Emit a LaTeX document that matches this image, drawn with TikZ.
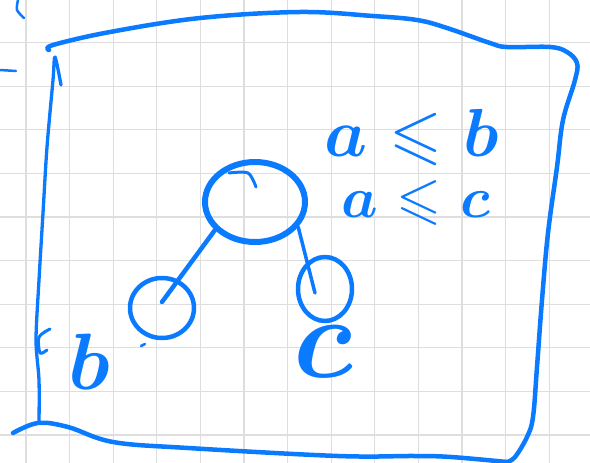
\RequirePackage{fix-cm}
\documentclass[tikz,border=0pt]{standalone}
\usepackage{amsmath,amssymb}
\usepackage{tikz}
\usetikzlibrary{shapes.geometric}
\definecolor{penblue}{RGB}{10,122,255}
\definecolor{gridgray}{RGB}{222,222,222}

\begin{document}
\begin{tikzpicture}[x=1pt, y=-1pt, line cap=round, line join=round,
  pen/.style={draw=penblue, line width=#1}, pen/.default=4.5pt,
  treenode/.style={ellipse, draw=penblue, line width=4.5pt, inner sep=0pt},
  edge/.style={draw=penblue, line width=4pt},
  lbl/.style={text=penblue, inner sep=0pt}]
\useasboundingbox (0,0) rectangle (590,463);
% paper grid
\foreach \i in {0,...,12}
  \draw[gridgray, line width=1.2pt] ({26+43.6*\i},0) -- ++(0,463);
\foreach \j in {0,...,9}
  \draw[gridgray, line width=1.2pt] (0,{42.5+43.6*\j}) -- ++(590,0);
% frame
\draw[pen] plot[smooth, tension=0.6] coordinates {(49,50) (53,45) (110,32) (200,18) (300,12) (373,16) (417,20) (447,28) (490,43) (507,47) (550,47) (567,52) (577,63) (575,80) (563,120) (557,167) (548,233) (542,300) (537,367) (533,417) (527,437) (515,457) (507,462)};
\draw[pen] plot[smooth, tension=0.6] coordinates {(13,433) (38,423) (68,427) (113,442) (188,448) (338,456) (414,456) (451,457) (507,462)};
\draw[pen=3.3pt] plot[smooth, tension=0.5] coordinates {(61,85) (55,57) (53,80) (47,147) (43,213) (39,280) (36,340) (39,380) (39,423)};
\draw[pen=3pt] plot[smooth] coordinates {(50,329) (39,337) (40,353) (47,350)};
% stray marks
\draw[pen=2.5pt] plot[smooth] coordinates {(18,0) (17,10) (24,18)};
\draw[pen=2.5pt] (0,70) -- (16,71);
\draw[pen=2.5pt] (141,346) -- (145,344);
% tree
\node[treenode, line width=6pt, minimum width=100pt, minimum height=80pt] (root) at (255,202) {};
\node[treenode, minimum width=64pt, minimum height=60pt] (lchild) at (162,308) {};
\node[treenode, minimum width=54pt, minimum height=64pt] (rchild) at (325,289) {};
\draw[pen=3pt] plot[smooth] coordinates {(229,173) (248,173) (256,187)};
\draw[edge, line width=4.5pt] (root.215) -- ([yshift=6pt]lchild.center);
\draw[edge, line width=3.5pt] (root.-30) -- ([xshift=-10pt,yshift=-4pt]rchild.center);
% labels
\node[lbl, font=\fontsize{68}{68}\selectfont\boldmath] (ineqb) at (412,138) {$a\leqslant b$};
\node[lbl, font=\fontsize{58}{58}\selectfont\boldmath] (ineqc) at (416,203) {$a\leqslant c$};
\node[lbl, font=\fontsize{80}{80}\selectfont\boldmath] (lblb) at (89,362) {$b$};
\node[lbl, font=\fontsize{116}{116}\selectfont\boldmath] (lblc) at (323,352) {$c$};
\end{tikzpicture}
\end{document}
